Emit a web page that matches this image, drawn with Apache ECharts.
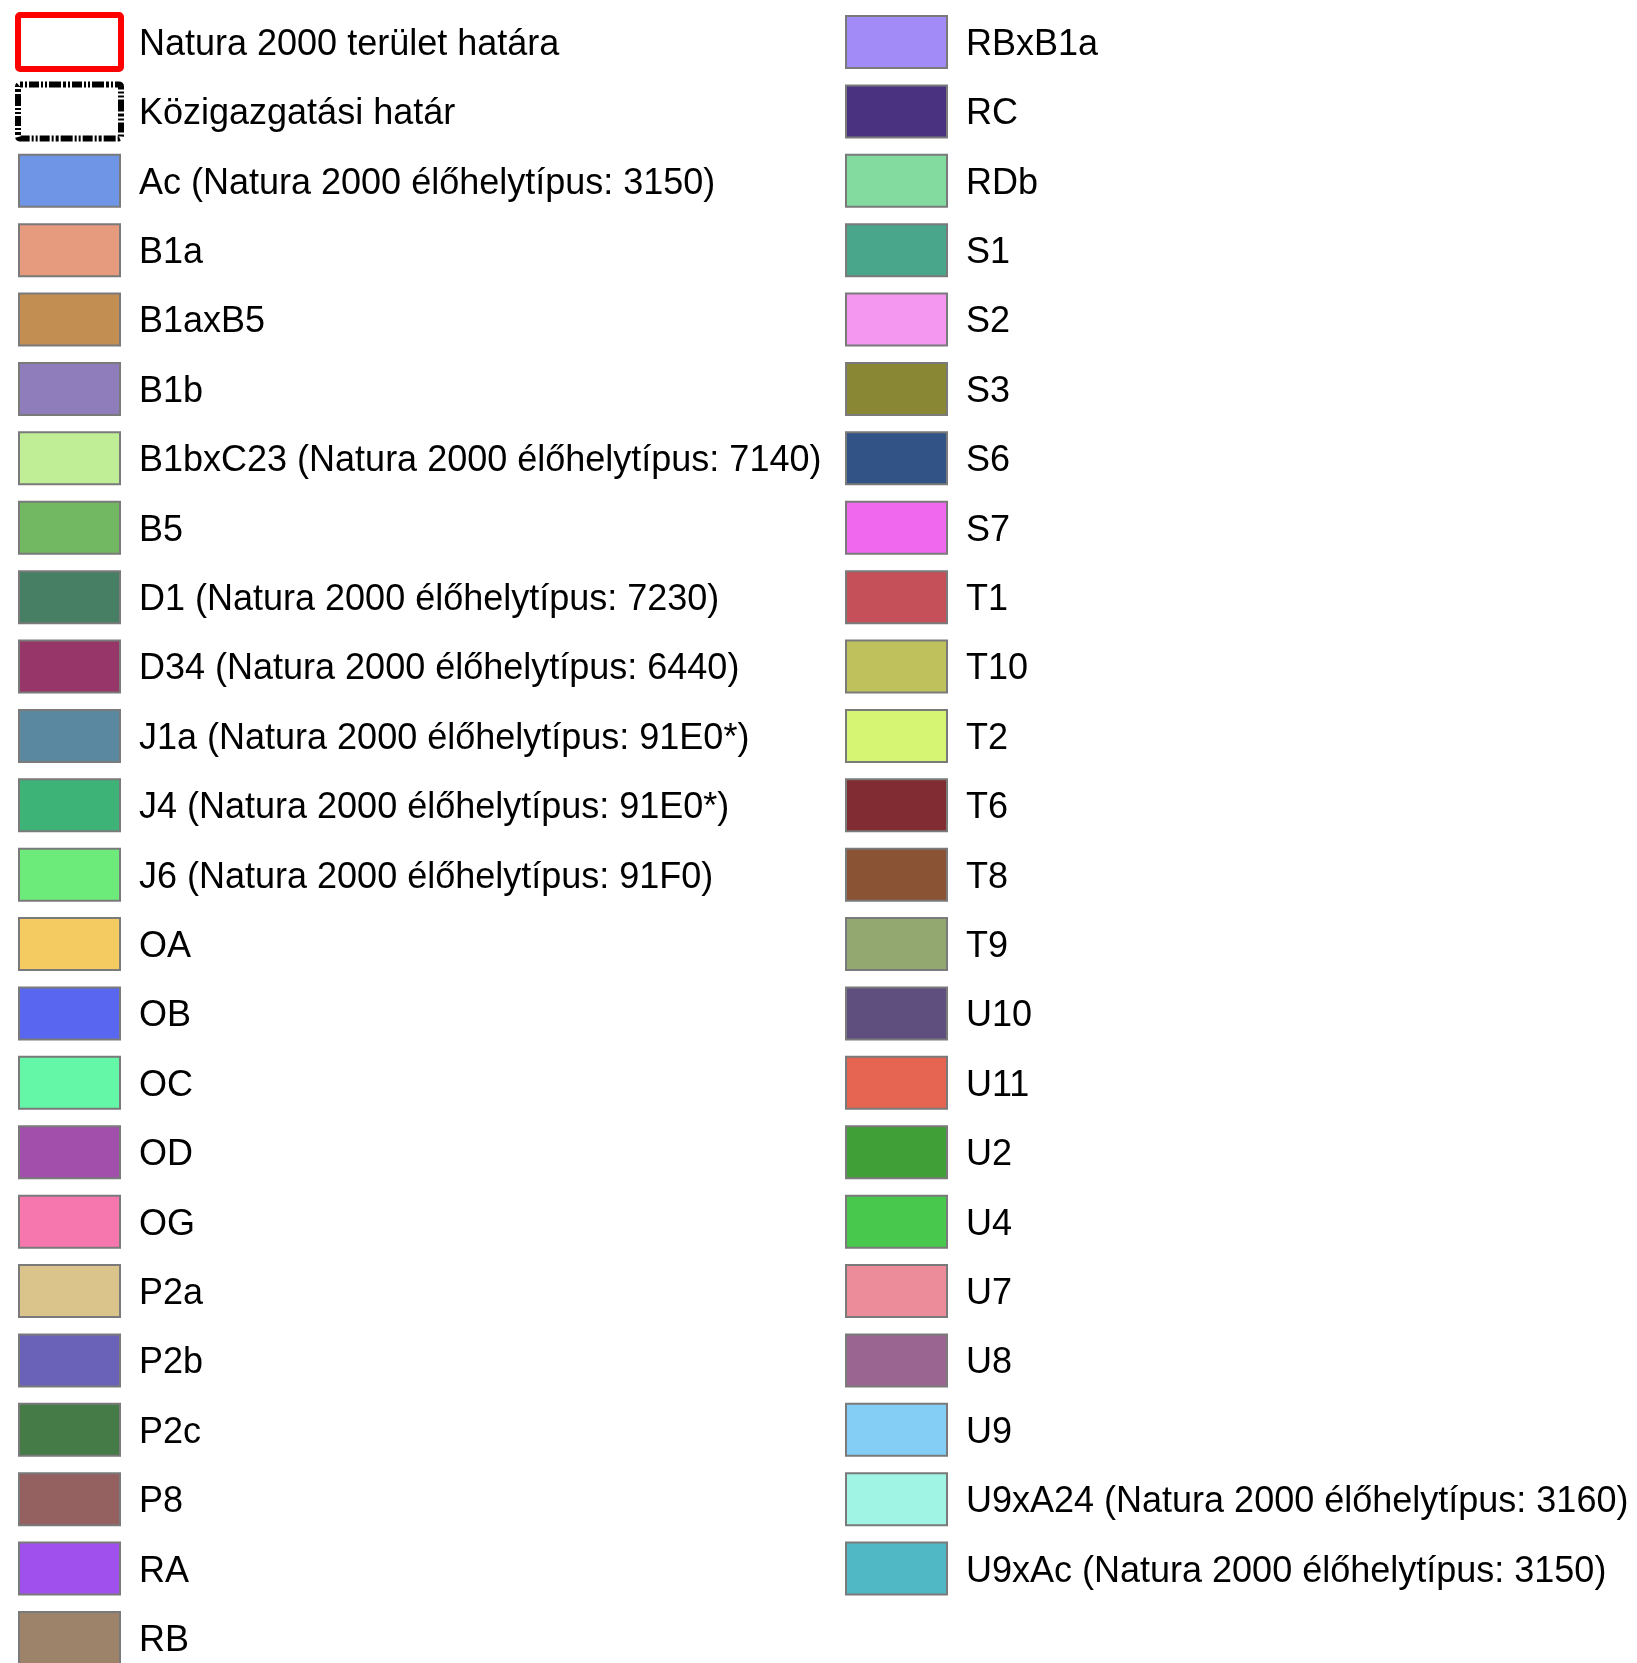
<!DOCTYPE html>
<html>
<head>
<meta charset="utf-8">
<script src="https://cdn.jsdelivr.net/npm/echarts@6/dist/echarts.min.js"></script>
<style>
  html, body { margin: 0; padding: 0; background: #fff; }
  #chart { width: 1637px; height: 1663px; }
</style>
</head>
<body>
<div id="chart"></div>
<script>
// határvonalak (csak keret)
const lineLabels = ['Natura 2000 terület határa', 'Közigazgatási határ']
const lineColors = ['#ff0000', '#000000']

// bal oszlop élőhelyek
const leftLabels = [
  'Ac (Natura 2000 élőhelytípus: 3150)', 'B1a', 'B1axB5', 'B1b',
  'B1bxC23 (Natura 2000 élőhelytípus: 7140)', 'B5',
  'D1 (Natura 2000 élőhelytípus: 7230)', 'D34 (Natura 2000 élőhelytípus: 6440)',
  'J1a (Natura 2000 élőhelytípus: 91E0*)', 'J4 (Natura 2000 élőhelytípus: 91E0*)',
  'J6 (Natura 2000 élőhelytípus: 91F0)', 'OA', 'OB', 'OC', 'OD', 'OG',
  'P2a', 'P2b', 'P2c', 'P8', 'RA', 'RB'
]
const leftColors = [
  '#6f95e6', '#e69a7e', '#c28e52', '#8f7cba', '#c0ee96', '#72b862',
  '#477f64', '#973668', '#5a88a0', '#3db378', '#6ceb7a', '#f4cb60',
  '#5966ef', '#65f7a8', '#a24fac', '#f577ae', '#dbc38c', '#6a62b8',
  '#447b47', '#956060', '#a050ec', '#9c836a'
]

// jobb oszlop élőhelyek
const rightLabels = [
  'RBxB1a', 'RC', 'RDb', 'S1', 'S2', 'S3', 'S6', 'S7', 'T1', 'T10', 'T2',
  'T6', 'T8', 'T9', 'U10', 'U11', 'U2', 'U4', 'U7', 'U8', 'U9',
  'U9xA24 (Natura 2000 élőhelytípus: 3160)', 'U9xAc (Natura 2000 élőhelytípus: 3150)'
]
const rightColors = [
  '#a38bf7', '#4a3281', '#84dba0', '#49a68b', '#f397f1', '#898733',
  '#325386', '#ef68ee', '#c6505a', '#bfc25c', '#d6f573', '#812c32',
  '#8a5334', '#93a870', '#5f4f7e', '#e66452', '#409f37', '#48c84c',
  '#ec8b9a', '#9b6592', '#84cef6', '#a0f4e3', '#50b7c5'
]

// oszlopok bal széle (px a tengelyen)
const colX = [18, 845]
const boxW = 103
const boxH = 52
const textGap = 121

// tételek összerakása: [oszlop, sor, felirat, szín, fajta]
const items = []
lineLabels.forEach(function (l, i) {
  items.push([0, i, l, lineColors[i], i === 0 ? 'red' : 'dash'])
})
leftLabels.forEach(function (l, i) {
  items.push([0, i + lineLabels.length, l, leftColors[i], 'fill'])
})
rightLabels.forEach(function (l, i) {
  items.push([1, i, l, rightColors[i], 'fill'])
})

const myChart = echarts.init(document.getElementById('chart'), null, { renderer: 'canvas' })

const option = {
  backgroundColor: '#fff',
  animation: false,
  grid: { left: 0, right: 0, top: 42, bottom: 25 },
  xAxis: { type: 'value', min: 0, max: 1637, show: false },
  yAxis: { type: 'value', min: 0, max: 23, inverse: true, show: false },
  series: [{
    type: 'custom',
    clip: false,
    data: items.map(function (d) { return [colX[d[0]], d[1]] }),
    renderItem: function (params, api) {
      const d = items[params.dataIndex]
      const p = api.coord([api.value(0), api.value(1)])
      const x = p[0]
      const y = p[1]
      let box
      if (d[4] === 'red') {
        box = {
          type: 'rect',
          shape: { x: x, y: y - boxH / 2 - 1, width: boxW, height: boxH + 2, r: 2 },
          style: { fill: '#fff', stroke: d[3], lineWidth: 6 }
        }
      } else if (d[4] === 'dash') {
        box = {
          type: 'rect',
          shape: { x: x, y: y - boxH / 2 - 1, width: boxW, height: boxH + 2, r: 2 },
          style: { fill: '#fff', stroke: d[3], lineWidth: 6, lineDash: [3, 2, 2, 2, 10, 2, 2, 2, 2, 2, 12, 2] }
        }
      } else {
        box = {
          type: 'rect',
          shape: { x: x + 1, y: y - boxH / 2, width: boxW - 2, height: boxH },
          style: { fill: d[3], stroke: '#7a7a7a', lineWidth: 2 }
        }
      }
      return {
        type: 'group',
        children: [
          box,
          {
            type: 'text',
            style: {
              text: d[2],
              x: x + textGap,
              y: y + 3,
              fill: '#000',
              fontSize: 36,
              fontFamily: '"Liberation Sans", Arial, sans-serif',
              verticalAlign: 'middle',
              align: 'left'
            }
          }
        ]
      }
    }
  }]
}
myChart.setOption(option)
</script>
</body>
</html>
